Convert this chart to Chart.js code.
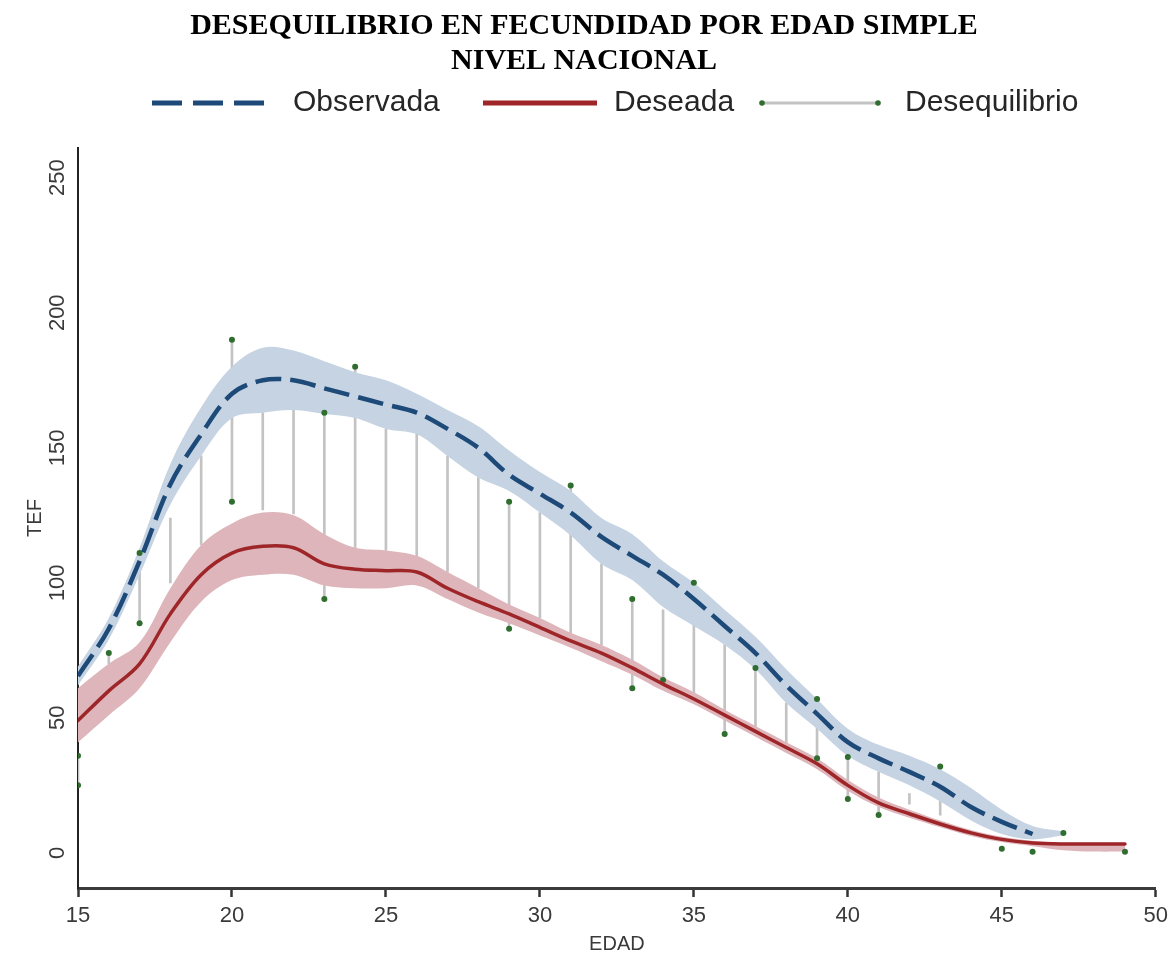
<!DOCTYPE html>
<html>
<head>
<meta charset="utf-8">
<title>Desequilibrio en fecundidad</title>
<script src="https://cdn.jsdelivr.net/npm/chart.js@4.4.0/dist/chart.umd.min.js"></script>
<style>
  html, body { margin: 0; padding: 0; background: #fff; }
</style>
</head>
<body>
<canvas id="fecChart" width="1174" height="958"></canvas>
<script>
// tick labels
const xTicks = [15, 20, 25, 30, 35, 40, 45, 50];
const yTicks = [0, 50, 100, 150, 200, 250];

// Observada (dashed blue) + its confidence band
const obsAges = [15, 16, 17, 18, 19, 20, 21, 22, 23, 24, 25, 26, 27, 28, 29, 30,
  31, 32, 33, 34, 35, 36, 37, 38, 39, 40, 41, 42, 43, 44, 45, 46];
const observada = [65.5, 83, 108, 136.5, 155, 170, 175, 175, 172, 169, 166, 163, 157, 150, 140, 133,
  126, 117, 110, 103, 94, 84, 74, 62, 51.5, 41, 35, 30, 24.5, 17, 11.5, 7];
const obsBandAges = [15, 16, 17, 18, 19, 20, 21, 22, 23, 24, 25, 26, 27, 28, 29, 30,
  31, 32, 33, 34, 35, 36, 37, 38, 39, 40, 41, 42, 43, 44, 45, 46, 47];
const obsLow = [62, 79, 103, 129, 147, 161, 163, 164, 162.5, 161, 157, 155, 147, 139, 134, 126,
  117.5, 107, 101, 91, 84, 77, 68, 55.5, 46, 36, 30, 25, 19, 12, 7, 5, 6.5];
const obsHigh = [69, 87, 113, 144, 165, 180, 187, 186, 182, 178, 175, 170, 164, 158, 149, 141,
  134, 124, 118, 108, 100, 90, 80, 68, 57, 46, 40, 36, 31, 24, 16, 10, 8];

// Deseada (solid red) + its confidence band
const desAges = [15, 16, 17, 18, 19, 20, 21, 22, 23, 24, 25, 26, 27, 28, 29, 30, 31, 32,
  33, 34, 35, 36, 37, 38, 39, 40, 41, 42, 43, 44, 45, 46, 47, 48, 49];
const deseada = [49, 60, 70, 88.5, 103, 111, 113.5, 113, 107, 105, 104.5, 104, 98, 93, 88.5, 83.5, 78.5, 74,
  68.5, 62.5, 57, 51, 45, 39, 33, 25, 18.5, 14.5, 10.7, 7.4, 5, 3.7, 3.3, 3.3, 3.3];
const desLow = [41, 51, 61, 78, 93, 101, 103, 103, 99, 98, 98, 99, 94, 89, 85, 80.5, 76, 71,
  66, 60, 55, 49, 43, 37, 31, 23, 17, 13, 9.5, 6.3, 4, 2.5, 1, 0.5, 0.5];
const desHigh = [61, 70, 78, 98, 114, 122, 126, 125, 118, 113, 112, 110, 104, 98, 92, 87, 81.5, 77,
  71.5, 65, 59.5, 53, 47, 41, 35, 27, 20.5, 16, 12, 8.5, 6, 4.5, 3.8, 3.8, 3.8];

// Desequilibrio: vertical segments per age and the points at their ends
const gapAges = [15, 16, 17, 18, 19, 20, 21, 22, 23, 24, 25, 26, 27, 28, 29,
  30, 31, 32, 33, 34, 35, 36, 37, 38, 39, 40, 41, 42, 43];
const gapLow = [25, 70, 85, 100, 114, 130, 127, 125.5, 94, 113, 112, 110, 104, 98, 83,
  87, 81.5, 77, 61, 64, 58, 44, 46, 40, 35, 20, 14, 18, 14];
const gapHigh = [36, 74, 111, 124, 147, 190, 163, 164, 163, 180, 157, 155, 147, 139, 130,
  126, 136, 107, 94, 90, 100, 77, 68.5, 55.5, 57, 35.5, 30, 22, 32];
const dotAges = [15, 15, 16, 17, 17, 20, 20, 23, 23, 24, 29, 29, 31, 33, 33,
  34, 35, 36, 37, 39, 39, 40, 40, 41, 43, 45, 46, 47, 49];
const dotValues = [25, 36, 74, 111, 85, 190, 130, 163, 94, 180, 130, 83, 136, 94, 61,
  64, 100, 44, 68.5, 57, 35, 35.5, 20, 14, 32, 1.5, 0.4, 7.4, 0.4];

const titleLines = ['DESEQUILIBRIO EN FECUNDIDAD POR EDAD SIMPLE', 'NIVEL NACIONAL'];

const BLUE = '#1d4a78';
const RED = '#9e2629';
const BLUE_BAND = '#c6d3e2';
const RED_BAND = '#ddb5ba';
const GAP_GREY = '#c3c3c3';
const DOT_GREEN = '#2f6e2f';
const SANS = '"Liberation Sans", Arial, sans-serif';

const pts = (xs, ys) => xs.map((x, i) => ({ x: x, y: ys[i] }));

// title + legend drawn above the plot
const headerPlugin = {
  id: 'header',
  afterDraw(chart) {
    const ctx = chart.ctx;
    ctx.save();
    ctx.fillStyle = '#000';
    ctx.textAlign = 'center';
    ctx.textBaseline = 'middle';
    ctx.font = 'bold 30px "Liberation Serif", "Times New Roman", serif';
    titleLines.forEach((t, i) => ctx.fillText(t, 584, 26 + i * 35));

    const ds = chart.data.datasets;
    const y = 103;
    ctx.font = '30px ' + SANS;
    ctx.textAlign = 'left';
    ctx.fillStyle = '#262626';

    // Observada
    ctx.lineWidth = 5;
    ctx.strokeStyle = BLUE;
    ctx.setLineDash([30, 11]);
    ctx.beginPath(); ctx.moveTo(152, y); ctx.lineTo(265, y); ctx.stroke();
    ctx.setLineDash([]);
    ctx.fillText(ds[0].label, 293, y);

    // Deseada
    ctx.strokeStyle = RED;
    ctx.beginPath(); ctx.moveTo(483, y); ctx.lineTo(597, y); ctx.stroke();
    ctx.fillText(ds[1].label, 614, y);

    // Desequilibrio
    ctx.lineWidth = 3;
    ctx.strokeStyle = GAP_GREY;
    ctx.beginPath(); ctx.moveTo(762, y); ctx.lineTo(878, y); ctx.stroke();
    ctx.fillStyle = DOT_GREEN;
    [762, 878].forEach(px => { ctx.beginPath(); ctx.arc(px, y, 2.8, 0, Math.PI * 2); ctx.fill(); });
    ctx.fillStyle = '#262626';
    ctx.fillText(ds[7].label, 905, y);
    ctx.restore();
  }
};

const ctx = document.getElementById('fecChart').getContext('2d');
new Chart(ctx, {
  type: 'scatter',
  data: {
    datasets: [
      {
        type: 'line', label: 'Observada', order: 0,
        data: pts(obsAges, observada),
        borderColor: BLUE, borderWidth: 4.5, borderDash: [26, 9],
        pointRadius: 0, tension: 0.35, fill: false
      },
      {
        type: 'line', label: 'Deseada', order: 1,
        data: pts(desAges, deseada),
        borderColor: RED, borderWidth: 3.5, borderCapStyle: 'round',
        pointRadius: 0, tension: 0.35, fill: false
      },
      {
        type: 'scatter', label: 'puntos', order: 2,
        data: pts(dotAges, dotValues),
        backgroundColor: DOT_GREEN, borderWidth: 0, pointRadius: 3
      },
      {
        type: 'line', label: 'obsHigh', order: 3,
        data: pts(obsBandAges, obsHigh),
        borderWidth: 0, pointRadius: 0, tension: 0.35,
        backgroundColor: BLUE_BAND, fill: '+1'
      },
      {
        type: 'line', label: 'obsLow', order: 4,
        data: pts(obsBandAges, obsLow),
        borderWidth: 0, pointRadius: 0, tension: 0.35, fill: false
      },
      {
        type: 'line', label: 'desHigh', order: 5,
        data: pts(desAges, desHigh),
        borderWidth: 0, pointRadius: 0, tension: 0.35,
        backgroundColor: RED_BAND, fill: '+1'
      },
      {
        type: 'line', label: 'desLow', order: 6,
        data: pts(desAges, desLow),
        borderWidth: 0, pointRadius: 0, tension: 0.35, fill: false
      },
      {
        type: 'bar', label: 'Desequilibrio', order: 7,
        data: gapAges.map((a, i) => ({ x: a, y: [gapLow[i], gapHigh[i]] })),
        backgroundColor: GAP_GREY, borderWidth: 0, barThickness: 2
      }
    ]
  },
  options: {
    responsive: false,
    animation: false,
    events: [],
    layout: { padding: { top: 148, right: 16, left: 0, bottom: 0 } },
    plugins: {
      legend: { display: false },
      tooltip: { enabled: false },
      title: { display: false }
    },
    scales: {
      x: {
        type: 'linear', min: 15, max: 50, offset: false,
        afterFit: s => { s.height = 70; },
        afterBuildTicks: s => { s.ticks = xTicks.map(v => ({ value: v })); },
        grid: { display: true, drawOnChartArea: false, drawTicks: true, tickLength: 9, tickWidth: 2.5, tickColor: '#333', offset: false },
        border: { display: true, color: '#3a3a3a', width: 3 },
        ticks: { color: '#3a3a3a', font: { family: SANS, size: 22 }, padding: 6, maxRotation: 0 },
        title: { display: true, text: 'EDAD', color: '#3a3a3a', font: { family: SANS, size: 20 }, padding: { top: 0, bottom: 2 } }
      },
      y: {
        type: 'linear', min: -13, max: 261,
        afterFit: s => { s.width = 78; },
        afterBuildTicks: s => { s.ticks = yTicks.map(v => ({ value: v })); },
        grid: { display: true, drawOnChartArea: false, drawTicks: false },
        border: { display: true, color: '#222', width: 2 },
        ticks: { color: '#3a3a3a', font: { family: SANS, size: 22 }, padding: 2, minRotation: 90, maxRotation: 90, crossAlign: 'center' },
        title: { display: true, text: 'TEF', color: '#3a3a3a', font: { family: SANS, size: 20 }, padding: { top: 23, bottom: 0 } }
      }
    }
  },
  plugins: [headerPlugin]
});
</script>
</body>
</html>
